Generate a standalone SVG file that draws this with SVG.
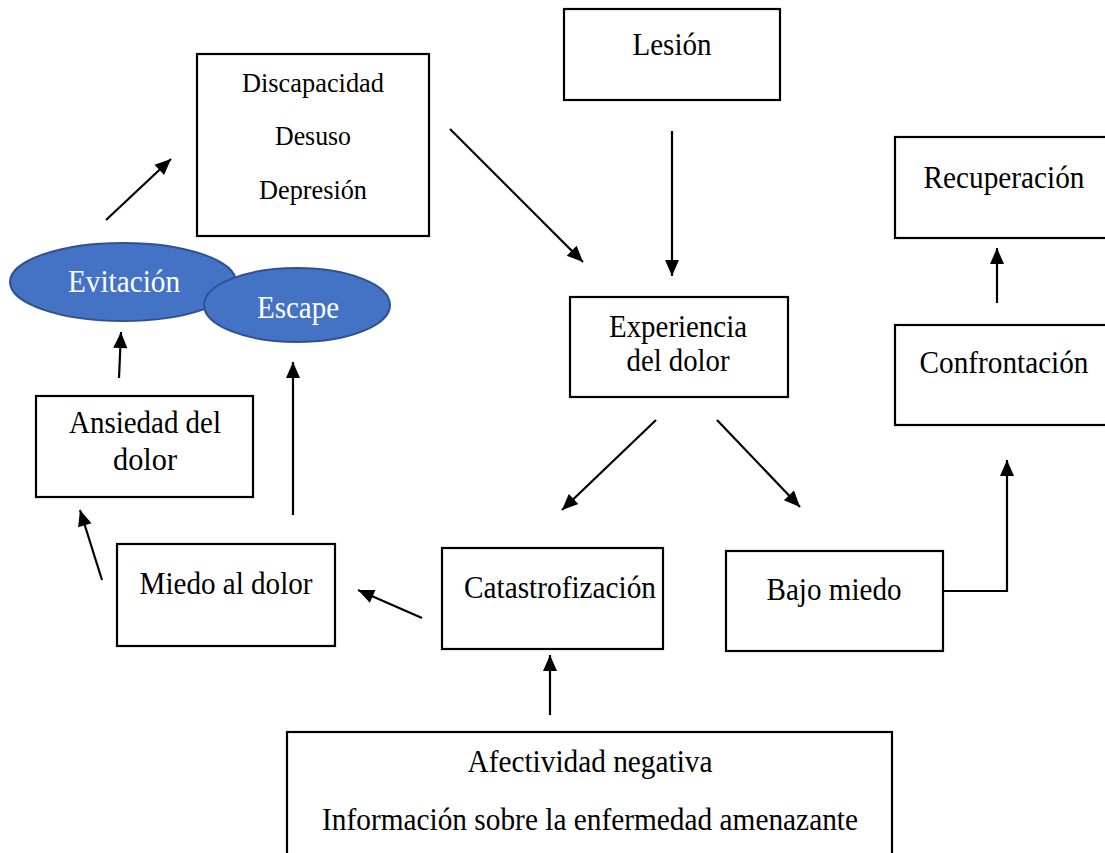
<svg xmlns="http://www.w3.org/2000/svg" width="1105" height="853" viewBox="0 0 1105 853">
<style>
.box{fill:#fff;stroke:#000;stroke-width:2.2}
.ell{fill:#4472C4;stroke:#2F528F;stroke-width:2}
.t{font-family:"Liberation Serif","Times New Roman",serif;font-size:32px;fill:#000;text-anchor:middle}
.s{font-size:28px}
.w{fill:#fff}
.c{fill:none;stroke:#000;stroke-width:2.2}
</style>
<defs>
<marker id="ah" markerUnits="userSpaceOnUse" markerWidth="20" markerHeight="20" viewBox="0 0 20 20" refX="18" refY="10" orient="auto">
<path d="M2,3 L18,10 L2,17 Z" fill="#000"/>
</marker>
</defs>
<rect width="1105" height="853" fill="#fff"/>
<g id="lesion"><rect class="box" x="564" y="9" width="216" height="91"/><text class="t" x="672" y="55" textLength="79" lengthAdjust="spacingAndGlyphs">Lesión</text></g>
<g id="discapacidad"><rect class="box" x="197" y="54" width="232" height="182"/>
<text class="t s" x="313" y="92" textLength="142" lengthAdjust="spacingAndGlyphs">Discapacidad</text><text class="t s" x="313" y="145" textLength="76" lengthAdjust="spacingAndGlyphs">Desuso</text><text class="t s" x="313" y="199" textLength="108" lengthAdjust="spacingAndGlyphs">Depresión</text></g>
<g id="recuperacion"><rect class="box" x="895" y="137" width="212" height="101"/><text class="t" x="1004" y="188" textLength="161" lengthAdjust="spacingAndGlyphs">Recuperación</text></g>
<g id="experiencia"><rect class="box" x="570" y="297" width="218" height="100"/><text class="t" x="678" y="337" textLength="138" lengthAdjust="spacingAndGlyphs">Experiencia</text><text class="t" x="678" y="371" textLength="103" lengthAdjust="spacingAndGlyphs">del dolor</text></g>
<g id="evitacion"><ellipse class="ell" cx="123" cy="282" rx="113" ry="39"/><text class="t w" x="124" y="292" textLength="112" lengthAdjust="spacingAndGlyphs">Evitación</text></g>
<g id="escape"><ellipse class="ell" cx="297" cy="305" rx="93" ry="37"/><text class="t w" x="298" y="318" textLength="82" lengthAdjust="spacingAndGlyphs">Escape</text></g>
<g id="confrontacion"><rect class="box" x="895" y="325" width="212" height="100"/><text class="t" x="1004" y="373" textLength="169" lengthAdjust="spacingAndGlyphs">Confrontación</text></g>
<g id="ansiedad"><rect class="box" x="36" y="396" width="217" height="101"/><text class="t" x="145" y="433" textLength="152" lengthAdjust="spacingAndGlyphs">Ansiedad del</text><text class="t" x="145" y="470" textLength="64" lengthAdjust="spacingAndGlyphs">dolor</text></g>
<g id="miedo"><rect class="box" x="117" y="544" width="218" height="102"/><text class="t" x="226" y="594" textLength="173" lengthAdjust="spacingAndGlyphs">Miedo al dolor</text></g>
<g id="catastrofizacion"><rect class="box" x="442" y="548" width="221" height="101"/><text class="t" x="560" y="598" textLength="192" lengthAdjust="spacingAndGlyphs">Catastrofización</text></g>
<g id="bajo"><rect class="box" x="726" y="551" width="217" height="100"/><text class="t" x="834" y="600" textLength="135" lengthAdjust="spacingAndGlyphs">Bajo miedo</text></g>
<g id="afectividad"><rect class="box" x="287" y="732" width="605" height="130"/><text class="t" x="590" y="772" textLength="245" lengthAdjust="spacingAndGlyphs">Afectividad negativa</text><text class="t" x="590" y="830" textLength="536" lengthAdjust="spacingAndGlyphs">Información sobre la enfermedad amenazante</text></g>
<g id="connectors">
<line class="c" x1="106" y1="220" x2="171" y2="159" marker-end="url(#ah)"/>
<line class="c" x1="450" y1="129" x2="583" y2="262" marker-end="url(#ah)"/>
<line class="c" x1="672" y1="131" x2="672" y2="276" marker-end="url(#ah)"/>
<line class="c" x1="656" y1="420" x2="562" y2="510" marker-end="url(#ah)"/>
<line class="c" x1="717" y1="420" x2="800" y2="507" marker-end="url(#ah)"/>
<polyline class="c" points="943,591 1007,591 1007,460" marker-end="url(#ah)"/>
<line class="c" x1="997" y1="303" x2="997" y2="248" marker-end="url(#ah)"/>
<line class="c" x1="422" y1="618" x2="358" y2="590" marker-end="url(#ah)"/>
<line class="c" x1="550" y1="715" x2="550" y2="655" marker-end="url(#ah)"/>
<line class="c" x1="102" y1="580" x2="80" y2="510" marker-end="url(#ah)"/>
<line class="c" x1="293" y1="515" x2="293" y2="362" marker-end="url(#ah)"/>
<line class="c" x1="119" y1="378" x2="121" y2="332" marker-end="url(#ah)"/>
</g>
</svg>
